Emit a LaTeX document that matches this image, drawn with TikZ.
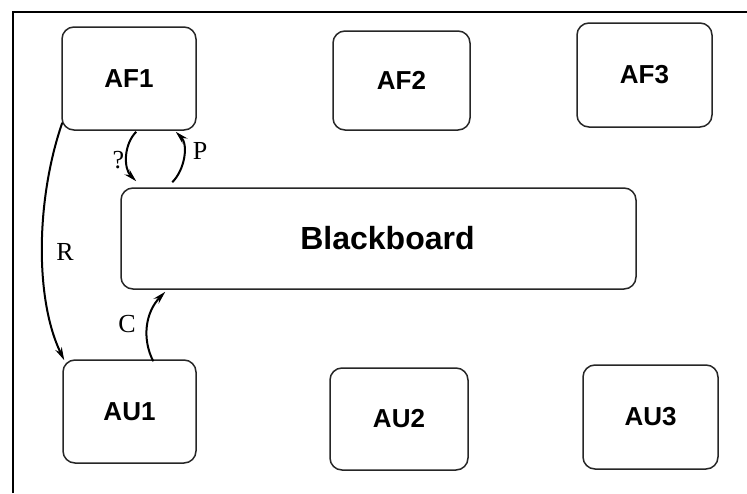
\documentclass[tikz,border=0pt]{standalone}
\usepackage{fontspec}
\setmainfont{Liberation Serif}
\setsansfont{Liberation Sans}
\usetikzlibrary{arrows.meta,calc}
\begin{document}
\begin{tikzpicture}[x=1pt,y=-1pt,
  agent/.style={draw=black!85,line width=1.5pt,rounded corners=12pt,inner sep=0pt,
    font=\sffamily\bfseries\fontsize{26}{30}\selectfont},
  conn/.style={line width=2pt,-{Stealth[length=13pt,width=7pt]}},
  lbl/.style={font=\fontsize{26}{30}\selectfont,inner sep=0pt}]
\useasboundingbox (0,0) rectangle (747,493);
\fill[white] (0,0) rectangle (747,493);
\draw[line width=2pt] (13,493) -- (13,12) -- (747,12);
\node[agent,minimum width=134pt,minimum height=103pt] (AF1) at (129,78.5) {AF1};
\node[agent,minimum width=137pt,minimum height=99pt] (AF2) at (401.5,80.5) {AF2};
\node[agent,minimum width=135pt,minimum height=104pt] (AF3) at (644.5,75) {AF3};
\node[agent,minimum width=515pt,minimum height=101pt,
  label={[font=\sffamily\bfseries\fontsize{32}{36}\selectfont,xshift=9pt]center:Blackboard}] (BB) at (378.5,238.5) {};
\node[agent,minimum width=133pt,minimum height=103pt] (AU1) at (129.5,411.5) {AU1};
\node[agent,minimum width=138pt,minimum height=102pt] (AU2) at (399,419) {AU2};
\node[agent,minimum width=135pt,minimum height=104pt] (AU3) at (650.5,417) {AU3};
% connectors
\draw[conn] ($(AF1.south west)+(1,-8)$) to[out=251,in=116,out distance=82pt,in distance=67pt] ($(AU1.north west)+(2,1)$);
\draw[conn] ($(AF1.south west)+(75,1)$) to[out=225,in=135,out distance=18pt,in distance=18pt] ($(BB.north west)+(16,-6)$);
\draw[conn] ($(BB.north west)+(52,-5)$) to[out=45,in=-45,out distance=18pt,in distance=18pt] ($(AF1.south east)+(-21,1)$);
\draw[conn] ($(AU1.north west)+(91,2)$) to[out=117,in=226,out distance=25pt,in distance=29pt] ($(BB.south west)+(45,2)$);
% labels
\node[lbl] (lR) at (65,252) {R};
\node[lbl] (lQ) at (118.5,160) {?};
\node[lbl] (lP) at (200,151) {P};
\node[lbl] (lC) at (127,324) {C};
\end{tikzpicture}
\end{document}
